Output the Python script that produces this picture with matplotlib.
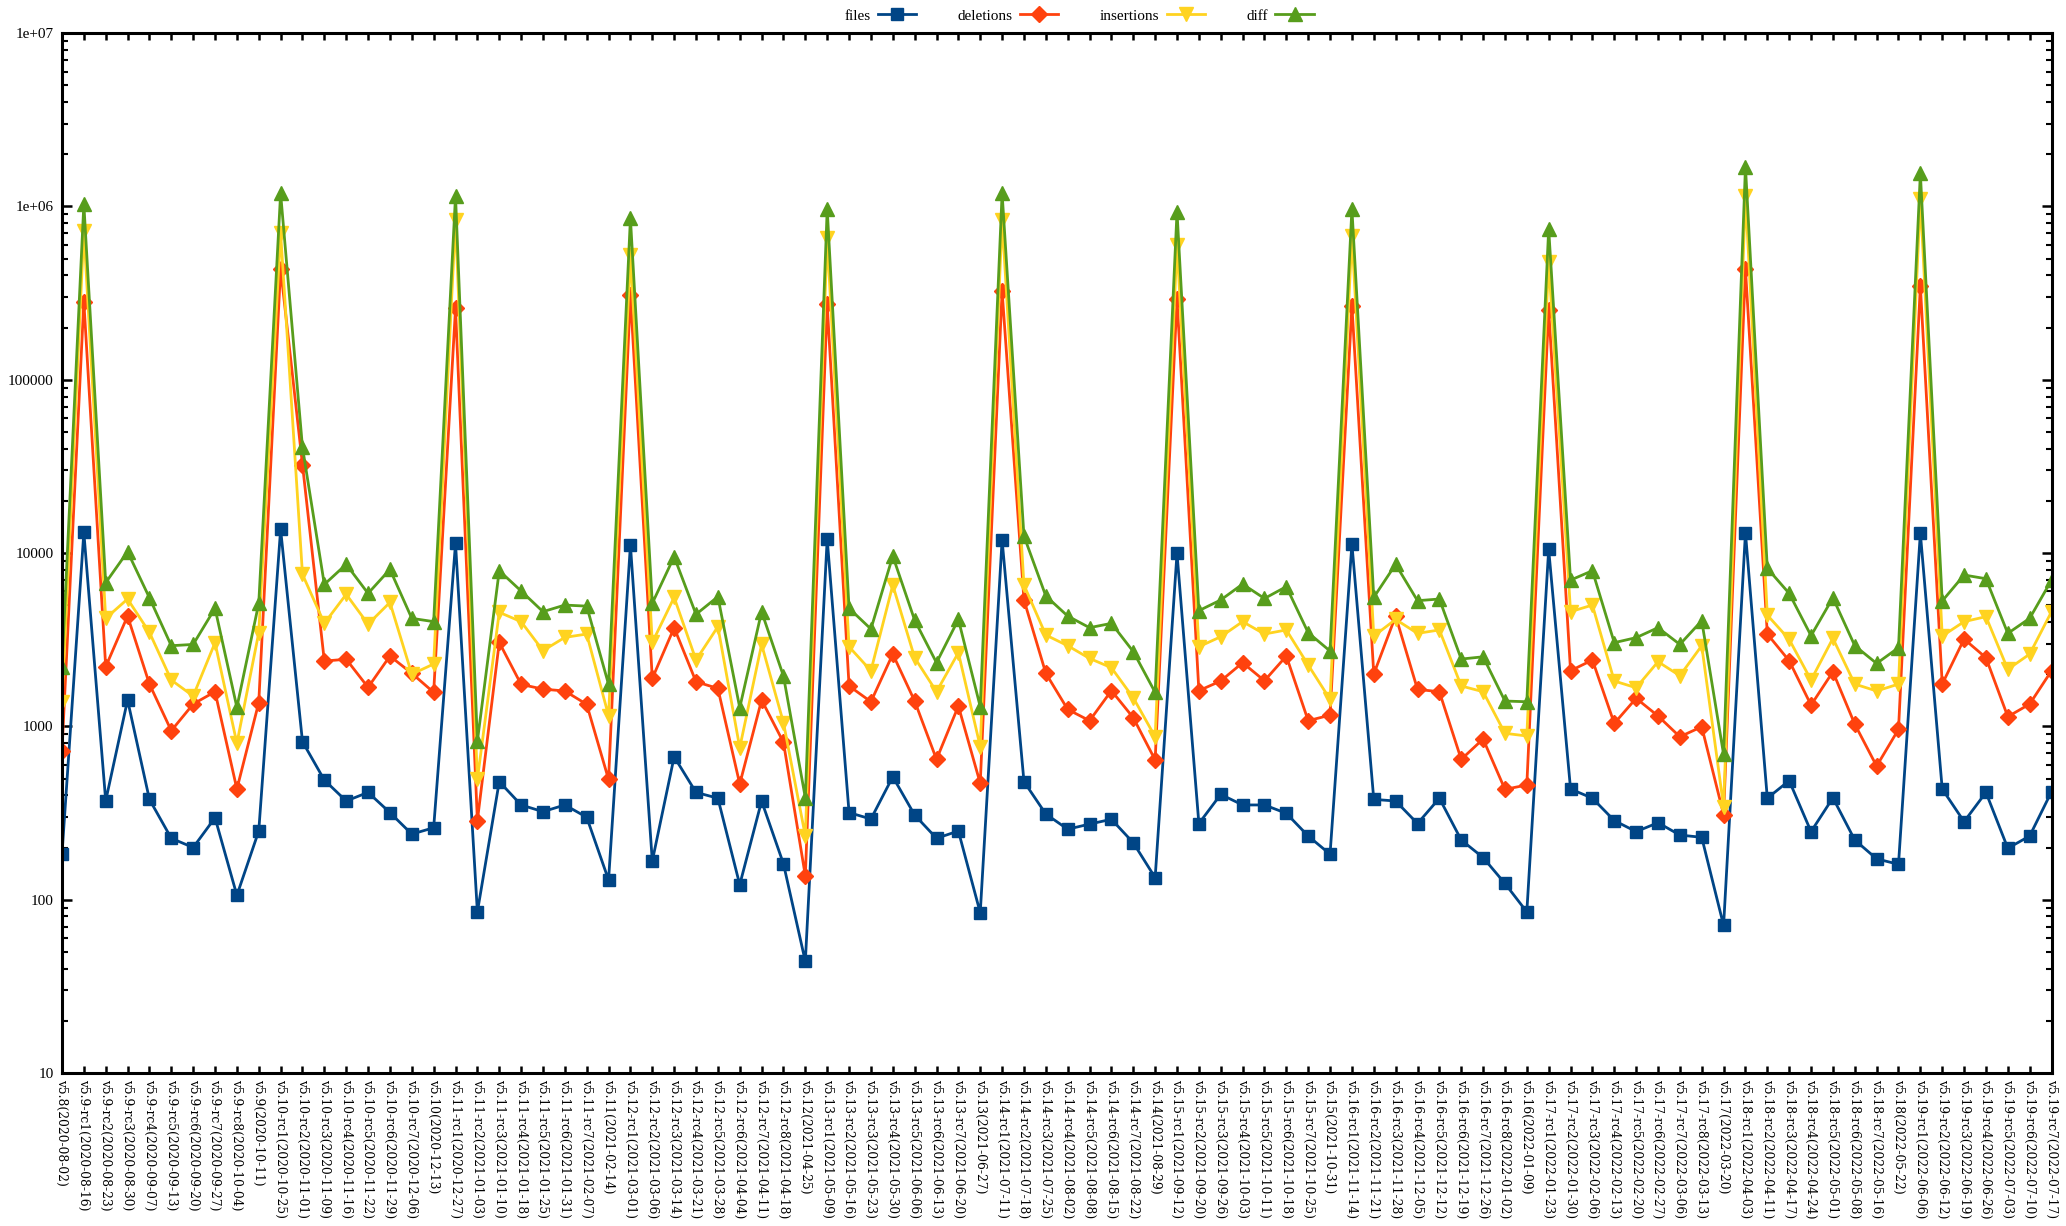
#!/usr/bin/env python3
"""Per-tag change counts (files / deletions / insertions / diff), log scale."""
from __future__ import annotations

import matplotlib
matplotlib.use("Agg")
import matplotlib.pyplot as plt
from matplotlib.ticker import FixedLocator, FixedFormatter, LogLocator, NullFormatter

TAGS = [
    "v5.8(2020-08-02)", "v5.9-rc1(2020-08-16)", "v5.9-rc2(2020-08-23)", "v5.9-rc3(2020-08-30)",
    "v5.9-rc4(2020-09-07)", "v5.9-rc5(2020-09-13)", "v5.9-rc6(2020-09-20)", "v5.9-rc7(2020-09-27)",
    "v5.9-rc8(2020-10-04)", "v5.9(2020-10-11)", "v5.10-rc1(2020-10-25)", "v5.10-rc2(2020-11-01)",
    "v5.10-rc3(2020-11-09)", "v5.10-rc4(2020-11-16)", "v5.10-rc5(2020-11-22)", "v5.10-rc6(2020-11-29)",
    "v5.10-rc7(2020-12-06)", "v5.10(2020-12-13)", "v5.11-rc1(2020-12-27)", "v5.11-rc2(2021-01-03)",
    "v5.11-rc3(2021-01-10)", "v5.11-rc4(2021-01-18)", "v5.11-rc5(2021-01-25)", "v5.11-rc6(2021-01-31)",
    "v5.11-rc7(2021-02-07)", "v5.11(2021-02-14)", "v5.12-rc1(2021-03-01)", "v5.12-rc2(2021-03-06)",
    "v5.12-rc3(2021-03-14)", "v5.12-rc4(2021-03-21)", "v5.12-rc5(2021-03-28)", "v5.12-rc6(2021-04-04)",
    "v5.12-rc7(2021-04-11)", "v5.12-rc8(2021-04-18)", "v5.12(2021-04-25)", "v5.13-rc1(2021-05-09)",
    "v5.13-rc2(2021-05-16)", "v5.13-rc3(2021-05-23)", "v5.13-rc4(2021-05-30)", "v5.13-rc5(2021-06-06)",
    "v5.13-rc6(2021-06-13)", "v5.13-rc7(2021-06-20)", "v5.13(2021-06-27)", "v5.14-rc1(2021-07-11)",
    "v5.14-rc2(2021-07-18)", "v5.14-rc3(2021-07-25)", "v5.14-rc4(2021-08-02)", "v5.14-rc5(2021-08-08)",
    "v5.14-rc6(2021-08-15)", "v5.14-rc7(2021-08-22)", "v5.14(2021-08-29)", "v5.15-rc1(2021-09-12)",
    "v5.15-rc2(2021-09-20)", "v5.15-rc3(2021-09-26)", "v5.15-rc4(2021-10-03)", "v5.15-rc5(2021-10-11)",
    "v5.15-rc6(2021-10-18)", "v5.15-rc7(2021-10-25)", "v5.15(2021-10-31)", "v5.16-rc1(2021-11-14)",
    "v5.16-rc2(2021-11-21)", "v5.16-rc3(2021-11-28)", "v5.16-rc4(2021-12-05)", "v5.16-rc5(2021-12-12)",
    "v5.16-rc6(2021-12-19)", "v5.16-rc7(2021-12-26)", "v5.16-rc8(2022-01-02)", "v5.16(2022-01-09)",
    "v5.17-rc1(2022-01-23)", "v5.17-rc2(2022-01-30)", "v5.17-rc3(2022-02-06)", "v5.17-rc4(2022-02-13)",
    "v5.17-rc5(2022-02-20)", "v5.17-rc6(2022-02-27)", "v5.17-rc7(2022-03-06)", "v5.17-rc8(2022-03-13)",
    "v5.17(2022-03-20)", "v5.18-rc1(2022-04-03)", "v5.18-rc2(2022-04-11)", "v5.18-rc3(2022-04-17)",
    "v5.18-rc4(2022-04-24)", "v5.18-rc5(2022-05-01)", "v5.18-rc6(2022-05-08)", "v5.18-rc7(2022-05-16)",
    "v5.18(2022-05-22)", "v5.19-rc1(2022-06-06)", "v5.19-rc2(2022-06-12)", "v5.19-rc3(2022-06-19)",
    "v5.19-rc4(2022-06-26)", "v5.19-rc5(2022-07-03)", "v5.19-rc6(2022-07-10)", "v5.19-rc7(2022-07-17)",
]

files = [
    183, 13150, 372, 1419, 379, 226, 200, 297, 106, 249,
    13700, 816, 490, 371, 416, 318, 239, 260, 11370, 85,
    480, 352, 322, 352, 299, 130, 11120, 167, 668, 416,
    385, 122, 371, 161, 44, 12050, 318, 292, 512, 308,
    226, 249, 84, 11890, 480, 312, 255, 273, 291, 213,
    134, 9960, 275, 405, 352, 352, 315, 233, 183, 11270,
    379, 371, 275, 385, 221, 175, 124, 85, 10500, 435,
    385, 286, 247, 278, 236, 229, 71, 13100, 385, 486,
    247, 387, 221, 172, 160, 13000, 435, 282, 416, 198,
    233, 420,
]

deletions = [
    724, 282000, 2208, 4333, 1754, 944, 1345, 1585, 435, 1371,
    437000, 32400, 2380, 2440, 1679, 2545, 2023, 1571, 258000, 286,
    3050, 1746, 1640, 1600, 1340, 494, 308000, 1890, 3710, 1810,
    1655, 465, 1419, 809, 137, 272000, 1710, 1387, 2612, 1400,
    645, 1310, 469, 325000, 5360, 2023, 1253, 1078, 1607, 1122,
    640, 292000, 1607, 1827, 2330, 1833, 2545, 1078, 1161, 267000,
    2004, 4333, 1634, 1585, 645, 845, 433, 459, 254000, 2094,
    2415, 1040, 1452, 1148, 871, 995, 310, 437000, 3410, 2390,
    1327, 2065, 1030, 590, 961, 348000, 1754, 3190, 2490, 1137,
    1345, 2094,
]

insertions = [
    1387, 724000, 4200, 5430, 3485, 1850, 1496, 3040, 798, 3470,
    703000, 7530, 3930, 5780, 3890, 5190, 2000, 2290, 839000, 494,
    4550, 4020, 2735, 3260, 3410, 1152, 522000, 3050, 5550, 2415,
    3760, 753, 2970, 1050, 233, 656000, 2880, 2094, 6535, 2490,
    1585, 2660, 764, 839000, 6535, 3365, 2920, 2466, 2180, 1462,
    871, 601000, 2880, 3290, 4020, 3410, 3600, 2260, 1432, 679000,
    3320, 4140, 3440, 3600, 1710, 1585, 912, 880, 478000, 4590,
    5010, 1827, 1670, 2360, 1960, 2920, 344, 1150000, 4385, 3175,
    1850, 3220, 1754, 1600, 1754, 1110000, 3320, 4020, 4295, 2133,
    2612, 4590,
]

diff = [
    2208, 1030000, 6745, 10180, 5520, 2920, 2970, 4800, 1288, 5130,
    1190000, 40800, 6590, 8610, 5850, 8050, 4200, 4020, 1150000, 822,
    7910, 6040, 4590, 5010, 4940, 1746, 853000, 5130, 9530, 4430,
    5600, 1282, 4590, 1950, 387, 966000, 4800, 3645, 9610, 4100,
    2330, 4140, 1298, 1190000, 12530, 5650, 4330, 3710, 3930, 2700,
    1571, 931000, 4650, 5360, 6620, 5470, 6400, 3470, 2720, 966000,
    5550, 8610, 5310, 5430, 2445, 2520, 1400, 1387, 741000, 6980,
    7910, 3040, 3250, 3710, 2970, 4070, 689, 1690000, 8160, 5850,
    3335, 5520, 2920, 2307, 2844, 1550000, 5290, 7470, 7110, 3440,
    4200, 6980,
]

ytick_values = [10, 100, 1000, 10000, 100000, 1000000, 10000000]
ytick_labels = ["10", "100", "1000", "10000", "100000", "1e+06", "1e+07"]

SERIES = [
    ("files", files, "#004586", "s", 9),
    ("deletions", deletions, "#ff420e", "D", 8),
    ("insertions", insertions, "#ffd320", "v", 10),
    ("diff", diff, "#579d1c", "^", 10),
]


def main() -> None:
    plt.rcParams["font.family"] = ["Liberation Serif", "DejaVu Serif"]
    fig = plt.figure(figsize=(20.66, 12.26), dpi=100)
    ax = fig.add_axes([0.030, 0.1248, 0.963, 0.8482])

    x = list(range(len(TAGS)))
    handles = []
    for name, vals, color, marker, ms in SERIES:
        (h,) = ax.plot(x, vals, color=color, lw=2.0, marker=marker, ms=ms,
                       mec=color, mfc=color, label=name)
        handles.append(h)

    ax.set_yscale("log")
    ax.set_ylim(10, 1e7)
    ax.set_xlim(0, len(TAGS) - 1)

    ax.yaxis.set_major_locator(FixedLocator(ytick_values))
    ax.yaxis.set_major_formatter(FixedFormatter(ytick_labels))
    ax.yaxis.set_minor_locator(LogLocator(base=10, subs=range(2, 10)))
    ax.yaxis.set_minor_formatter(NullFormatter())

    ax.set_xticks(x)
    ax.set_xticklabels(TAGS, rotation=-90, ha="center", va="top",
                       fontsize=8.8, family=["DejaVu Serif"])

    for sp in ax.spines.values():
        sp.set_linewidth(2.2)
    ax.tick_params(axis="x", which="major", direction="in", length=5, width=1.8,
                   top=True, bottom=True, pad=4)
    ax.tick_params(axis="y", which="major", direction="in", length=7, width=1.8,
                   left=True, right=True, labelsize=11, pad=6)
    ax.tick_params(axis="y", which="minor", direction="in", length=4, width=1.5,
                   left=True, right=True)

    fig.legend(handles=handles, loc="center", bbox_to_anchor=(1079 / 2066, 0.987),
               ncol=4, frameon=False, markerfirst=False, fontsize=11,
               handlelength=2.5, columnspacing=2.7, handletextpad=0.5)

    fig.savefig("out.png", dpi=100)
    plt.close(fig)


if __name__ == "__main__":
    main()
